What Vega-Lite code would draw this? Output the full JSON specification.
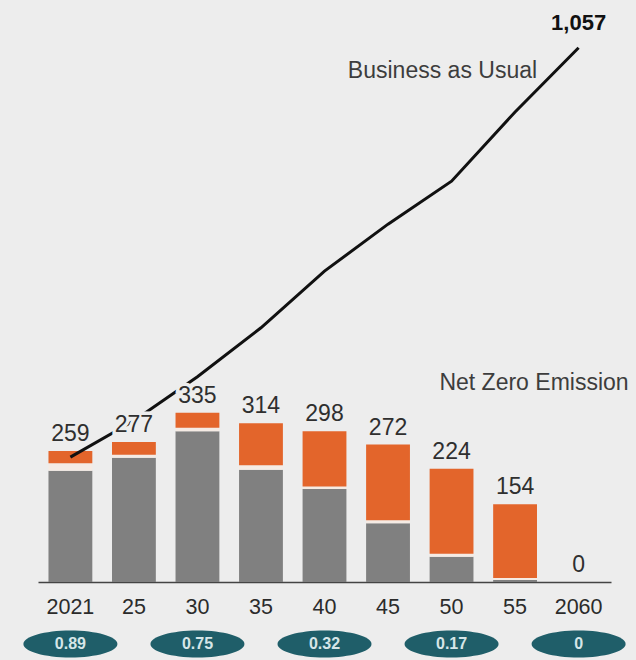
{
  "$schema": "https://vega.github.io/schema/vega-lite/v6.json",
  "width": 573,
  "height": 556,
  "autosize": {"type": "none"},
  "padding": {"left": 38, "right": 25, "top": 26, "bottom": 78},
  "background": "#ededed",
  "config": {"view": {"stroke": null}, "font": "Liberation Sans"},
  "data": {"values": [
    {"year": "2021", "gray": 220, "ob": 235, "total": 259, "bau": 247, "ratio": "0.89"},
    {"year": "25", "gray": 246, "ob": 252, "total": 277, "bau": 319},
    {"year": "30", "gray": 298, "ob": 305, "total": 335, "bau": 406, "ratio": "0.75"},
    {"year": "35", "gray": 222, "ob": 231, "total": 314, "bau": 503},
    {"year": "40", "gray": 184, "ob": 189, "total": 298, "bau": 615, "ratio": "0.32"},
    {"year": "45", "gray": 116, "ob": 122, "total": 272, "bau": 708},
    {"year": "50", "gray": 50, "ob": 56, "total": 224, "bau": 793, "ratio": "0.17"},
    {"year": "55", "gray": 4, "ob": 8, "total": 154, "bau": 930},
    {"year": "2060", "gray": 0, "ob": 0, "total": 0, "bau": 1057, "ratio": "0"}
  ]},
  "encoding": {
    "x": {
      "field": "year", "type": "nominal",
      "scale": {"domain": ["2021", "25", "30", "35", "40", "45", "50", "55", "2060"], "paddingInner": 0.31, "paddingOuter": 0.165},
      "axis": {"title": null, "labelAngle": 0, "ticks": false, "labelPadding": 14, "labelFontSize": 21.5, "labelColor": "#2b2b2b", "domainColor": "#444444", "domainWidth": 1.5, "labelFont": "Liberation Sans"}
    }
  },
  "layer": [
    {
      "mark": {"type": "bar", "color": "#808080"},
      "encoding": {
        "y": {"field": "gray", "type": "quantitative", "scale": {"domain": [0, 1100], "nice": false}, "axis": null},
        "y2": {"datum": 0}
      }
    },
    {
      "mark": {"type": "bar", "color": "#f5ebe4"},
      "encoding": {
        "y": {"field": "ob", "type": "quantitative"},
        "y2": {"field": "gray"}
      }
    },
    {
      "mark": {"type": "bar", "color": "#e3652b"},
      "encoding": {
        "y": {"field": "total", "type": "quantitative"},
        "y2": {"field": "ob"}
      }
    },
    {
      "mark": {"type": "line", "color": "#111111", "strokeWidth": 3},
      "encoding": {
        "y": {"field": "bau", "type": "quantitative"}
      }
    },
    {
      "mark": {"type": "text", "fontSize": 23, "dy": -10, "baseline": "alphabetic", "fill": "#ededed", "stroke": "#ededed", "strokeWidth": 7},
      "encoding": {
        "y": {"field": "total", "type": "quantitative"},
        "text": {"field": "total", "type": "quantitative", "format": "d"}
      }
    },
    {
      "mark": {"type": "text", "fontSize": 23, "dy": -10, "baseline": "alphabetic", "color": "#2f2f2f"},
      "encoding": {
        "y": {"field": "total", "type": "quantitative"},
        "text": {"field": "total", "type": "quantitative", "format": "d"}
      }
    },
    {
      "transform": [{"filter": "datum.ratio != null"}],
      "mark": {"type": "point", "filled": true, "opacity": 1, "color": "#1f5e69", "size": 8836, "yOffset": 62,
        "shape": "M -1 0 C -1 -0.1585 -0.5523 -0.287 0 -0.287 C 0.5523 -0.287 1 -0.1585 1 0 C 1 0.1585 0.5523 0.287 0 0.287 C -0.5523 0.287 -1 0.1585 -1 0 Z"},
      "encoding": {
        "y": {"datum": 0}
      }
    },
    {
      "transform": [{"filter": "datum.ratio != null"}],
      "mark": {"type": "text", "fontSize": 16, "fontWeight": "bold", "color": "#d6e6e8", "yOffset": 62, "baseline": "middle"},
      "encoding": {
        "y": {"datum": 0},
        "text": {"field": "ratio"}
      }
    },
    {
      "data": {"values": [
        {"year": "55", "v": 997, "label": "Business as Usual"}
      ]},
      "mark": {"type": "text", "fontSize": 23, "align": "right", "baseline": "alphabetic", "dx": 22, "color": "#3d3d3d"},
      "encoding": {
        "y": {"field": "v", "type": "quantitative"},
        "text": {"field": "label"}
      }
    },
    {
      "data": {"values": [
        {"year": "2060", "v": 380, "label": "Net Zero Emission"}
      ]},
      "mark": {"type": "text", "fontSize": 23, "align": "right", "baseline": "alphabetic", "dx": 50, "color": "#3d3d3d"},
      "encoding": {
        "y": {"field": "v", "type": "quantitative"},
        "text": {"field": "label"}
      }
    },
    {
      "data": {"values": [
        {"year": "2060", "v": 1057, "label": "1,057"}
      ]},
      "mark": {"type": "text", "fontSize": 22, "fontWeight": "bold", "baseline": "alphabetic", "dy": -18, "color": "#111111"},
      "encoding": {
        "y": {"field": "v", "type": "quantitative"},
        "text": {"field": "label"}
      }
    }
  ]
}
